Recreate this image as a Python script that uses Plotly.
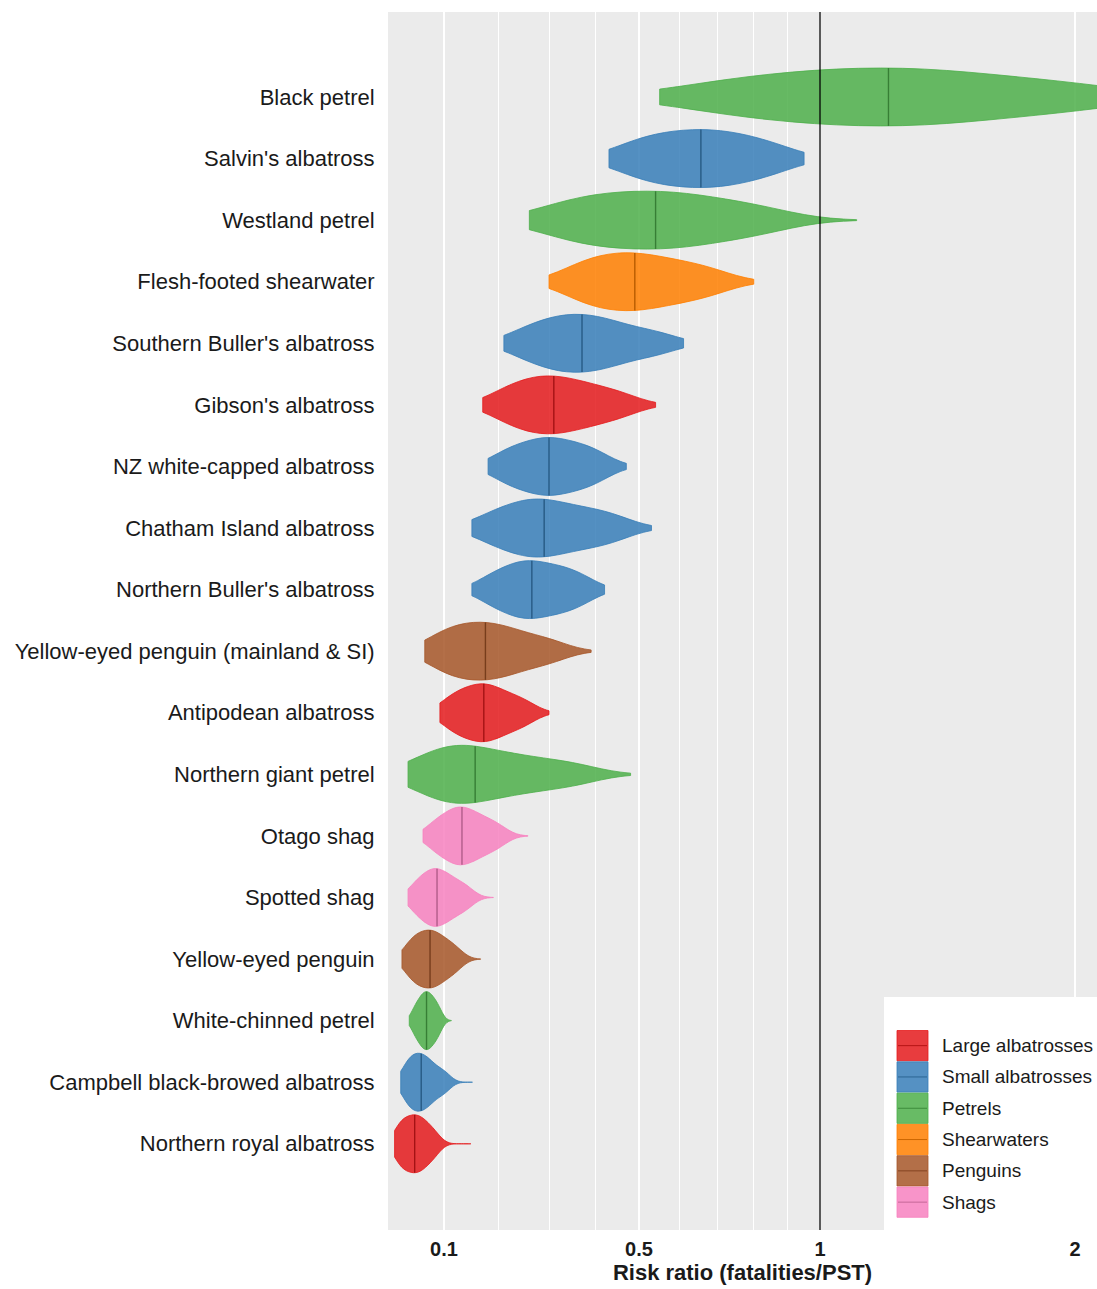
import numpy as np
import plotly.graph_objects as go

# species from top to bottom
species = [
    "Black petrel", "Salvin's albatross", "Westland petrel", "Flesh-footed shearwater",
    "Southern Buller's albatross", "Gibson's albatross", "NZ white-capped albatross",
    "Chatham Island albatross", "Northern Buller's albatross",
    "Yellow-eyed penguin (mainland & SI)", "Antipodean albatross", "Northern giant petrel",
    "Otago shag", "Spotted shag", "Yellow-eyed penguin", "White-chinned petrel",
    "Campbell black-browed albatross", "Northern royal albatross",
]
species_group = [
    "Petrels", "Small albatrosses", "Petrels", "Shearwaters",
    "Small albatrosses", "Large albatrosses", "Small albatrosses",
    "Small albatrosses", "Small albatrosses",
    "Penguins", "Large albatrosses", "Petrels",
    "Shags", "Shags", "Penguins", "Petrels",
    "Small albatrosses", "Large albatrosses",
]

# risk ratio: lowest and highest draw, and quantiles at p = 1/14, 3/14, ..., 13/14 (4th = median)
risk_min = [0.55, 0.43, 0.26, 0.30, 0.21, 0.17, 0.18, 0.15, 0.15,
            0.067, 0.093, 0.039, 0.064, 0.039, 0.029, 0.041, 0.027, 0.017]
risk_max = [2.6, 0.95, 1.12, 0.80, 0.61, 0.54, 0.47, 0.53, 0.42,
            0.39, 0.30, 0.48, 0.257, 0.19, 0.166, 0.113, 0.151, 0.148]
risk_quantiles = [
    [0.70, 0.90, 1.06, 1.23, 1.40, 1.62, 2.0],
    [0.48, 0.545, 0.60, 0.655, 0.71, 0.77, 0.86],
    [0.32, 0.40, 0.46, 0.54, 0.60, 0.69, 0.82],
    [0.36, 0.405, 0.455, 0.49, 0.54, 0.60, 0.68],
    [0.25, 0.30, 0.335, 0.37, 0.41, 0.455, 0.54],
    [0.21, 0.25, 0.285, 0.31, 0.35, 0.39, 0.455],
    [0.21, 0.245, 0.28, 0.30, 0.33, 0.365, 0.405],
    [0.185, 0.23, 0.265, 0.29, 0.33, 0.38, 0.44],
    [0.185, 0.22, 0.25, 0.265, 0.30, 0.33, 0.37],
    [0.09, 0.12, 0.15, 0.175, 0.205, 0.24, 0.30],
    [0.11, 0.133, 0.156, 0.172, 0.19, 0.215, 0.25],
    [0.065, 0.10, 0.133, 0.156, 0.21, 0.265, 0.35],
    [0.083, 0.105, 0.122, 0.132, 0.15, 0.168, 0.197],
    [0.051, 0.067, 0.08, 0.088, 0.102, 0.116, 0.139],
    [0.041, 0.053, 0.066, 0.076, 0.087, 0.10, 0.12],
    [0.05, 0.059, 0.065, 0.07, 0.076, 0.082, 0.091],
    [0.035, 0.044, 0.053, 0.061, 0.07, 0.081, 0.10],
    [0.023, 0.031, 0.042, 0.05, 0.059, 0.068, 0.083],
]

groups = ["Large albatrosses", "Small albatrosses", "Petrels", "Shearwaters", "Penguins", "Shags"]
group_colors = ["#E41A1C", "#377EB8", "#4DAF4A", "#FF7F00", "#A65628", "#F781BF"]

tick_values = [0.1, 0.5, 1, 2]
tick_labels = ["0.1", "0.5", "1", "2"]
minor_grid = [0.2, 0.3, 0.4, 0.6, 0.7, 0.8, 0.9]

FONT = "Liberation Sans, Arial, sans-serif"
WIDTH = 0.94
BW_ADJUST = 0.85


def rgba(hex_col, a, shade=1.0):
    h = hex_col.lstrip("#")
    r, g, b = (int(h[k:k + 2], 16) * shade for k in (0, 2, 4))
    return "rgba(%d,%d,%d,%s)" % (r, g, b, a)


fig = go.Figure()

for i, name in enumerate(species):
    col = group_colors[groups.index(species_group[i])]
    t = np.log1p(np.array(risk_quantiles[i]))
    lo, hi = np.log1p(risk_min[i]), np.log1p(risk_max[i])
    sd = t.std(ddof=1)
    iqr = np.percentile(t, 75) - np.percentile(t, 25)
    bw = BW_ADJUST * 1.059 * min(sd, iqr / 1.349) * len(t) ** -0.2

    fig.add_trace(go.Violin(
        x=t, y0=i, orientation="h", width=WIDTH, scalemode="width",
        spanmode="manual", span=[lo, hi], bandwidth=bw,
        fillcolor=rgba(col, 0.85), line=dict(color=col, width=0.8),
        points=False, box_visible=False, meanline_visible=False,
        showlegend=False, hoverinfo="skip", name=name,
    ))

    # median line, spanning the violin at that point
    grid = np.linspace(lo, hi, 600)
    dens = np.exp(-0.5 * ((grid[:, None] - t[None, :]) / bw) ** 2).sum(axis=1)
    med = t[3]
    dmed = np.exp(-0.5 * ((med - t) / bw) ** 2).sum()
    h = WIDTH / 2 * dmed / dens.max()
    fig.add_trace(go.Scatter(
        x=[med, med], y=[i - h, i + h], mode="lines",
        line=dict(color=rgba(col, 1, 0.72), width=1.4), showlegend=False, hoverinfo="skip",
    ))

# reference line at risk ratio 1
fig.add_shape(type="line", xref="x", yref="paper", x0=np.log1p(1), x1=np.log1p(1), y0=0, y1=1,
              line=dict(color="black", width=1.3))

# legend drawn as a ggplot-style key box
PX_L, PX_R, PX_T, PX_B = 388, 1097, 12, 1230


def px_x(px):
    return (px - PX_L) / (PX_R - PX_L)


def px_y(py):
    return (PX_B - py) / (PX_B - PX_T)


fig.add_shape(type="rect", xref="paper", yref="paper", x0=px_x(884), x1=px_x(1100),
              y0=px_y(997), y1=px_y(1230), fillcolor="white", line=dict(width=0), layer="above")
key_h = 31.3
for k, g in enumerate(groups):
    top = 1030 + k * key_h
    fig.add_shape(type="rect", xref="paper", yref="paper", x0=px_x(897), x1=px_x(928),
                  y0=px_y(top + key_h - 0.5), y1=px_y(top + 0.5),
                  fillcolor=rgba(group_colors[k], 0.85), line=dict(color=group_colors[k], width=0.8),
                  layer="above")
    fig.add_shape(type="line", xref="paper", yref="paper", x0=px_x(898), x1=px_x(927),
                  y0=px_y(top + key_h / 2), y1=px_y(top + key_h / 2),
                  line=dict(color=rgba(group_colors[k], 1, 0.8), width=1), layer="above")
    fig.add_annotation(xref="paper", yref="paper", x=px_x(940), y=px_y(top + key_h / 2),
                       text=g, showarrow=False, xanchor="left", yanchor="middle",
                       font=dict(family=FONT, size=19, color="#1a1a1a"))

fig.update_layout(
    width=1097, height=1289,
    margin=dict(l=388, r=0, t=12, b=59),
    paper_bgcolor="white", plot_bgcolor="#EBEBEB",
    violinmode="overlay",
    showlegend=False,
    font=dict(family=FONT, color="#1a1a1a"),
)
fig.update_xaxes(
    range=[0.0064, 1.1335],
    tickvals=np.log1p(tick_values), ticktext=tick_labels,
    tickfont=dict(family=FONT, size=20, weight="bold", color="#1a1a1a"),
    ticks="outside", ticklen=1, tickcolor="rgba(0,0,0,0)",
    showgrid=True, gridcolor="white", gridwidth=1.5,
    minor=dict(tickvals=np.log1p(minor_grid), showgrid=True, gridcolor="white", gridwidth=1.2),
    zeroline=False, showline=False,
    title=dict(text="Risk ratio (fatalities/PST)", standoff=3,
               font=dict(family=FONT, size=22, weight="bold", color="#1a1a1a")),
)
fig.update_yaxes(
    type="linear", range=[18.4, -1.38],
    tickvals=list(range(len(species))), ticktext=species,
    tickfont=dict(family=FONT, size=22, color="#1a1a1a"),
    ticks="outside", ticklen=8, tickcolor="rgba(0,0,0,0)",
    showgrid=False, zeroline=False, showline=False,
)

fig.write_html("out.html", config={"displayModeBar": False},
               post_script="document.body.style.margin='0';")
